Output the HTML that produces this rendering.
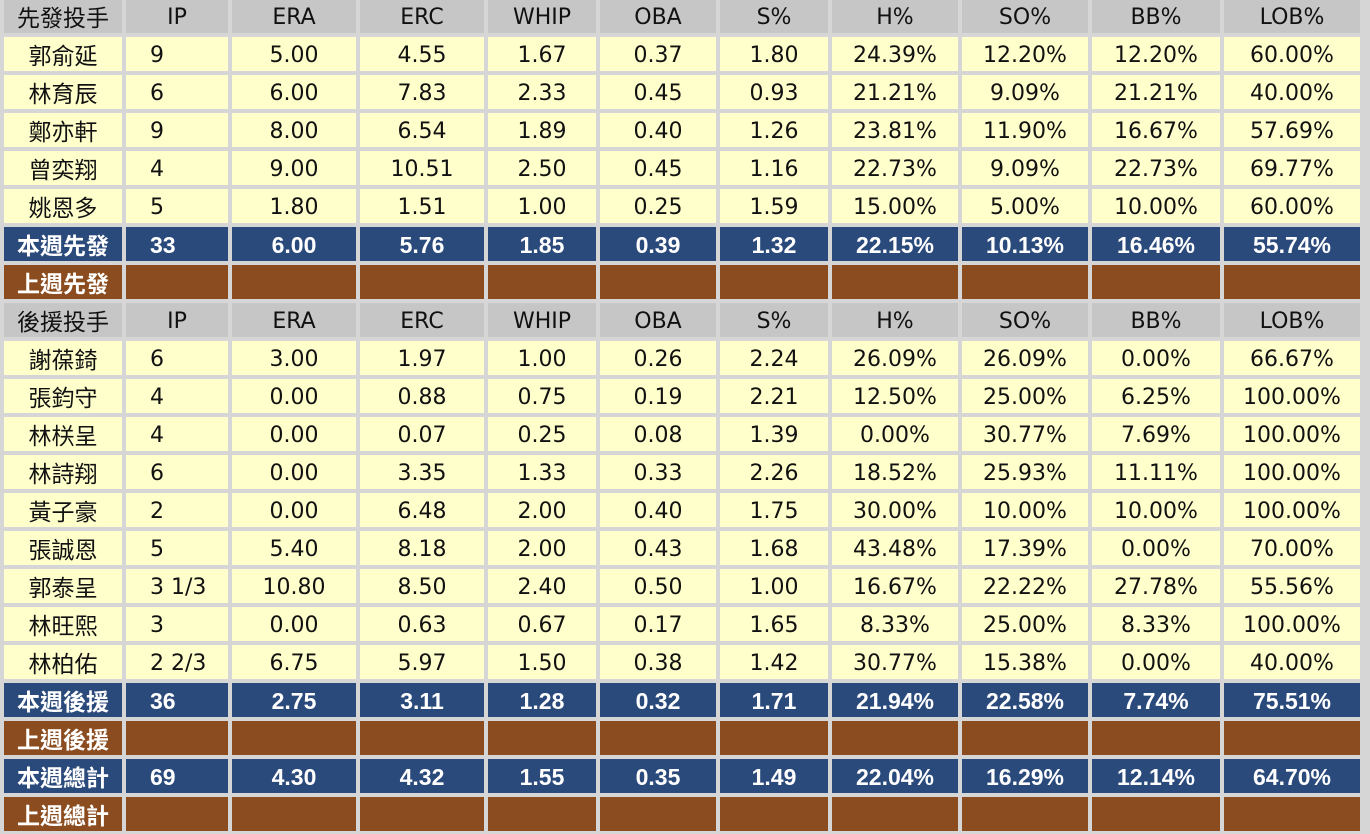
<!DOCTYPE html>
<html><head><meta charset="utf-8"><style>
html,body{margin:0;padding:0;background:#d6d6d6;width:1370px;height:834px;overflow:hidden}
.g{position:absolute;left:4px;top:-1px;display:grid;grid-template-columns:118px 102px 124px 124px 108px 116px 108px 126px 126px 128px 136px;grid-auto-rows:34px;gap:4px;font-family:"DejaVu Sans","Noto Sans CJK TC",sans-serif;font-size:22px}
.g div{display:flex;align-items:center;justify-content:center;color:#111;background:#ffffcc;padding-top:2px;box-sizing:border-box}
.g div.ip{justify-content:flex-start;padding-left:24px}
.g div.n{font-size:23px;padding-top:0}
.g div.h{background:#c6c6c6}
.g div.b{background:#2b4a7c;color:#fff;font-weight:bold;font-family:"Liberation Sans","Noto Sans CJK TC",sans-serif;font-size:23px}
.g div.r{background:#8b4c1f;color:#fff;font-weight:bold;font-family:"Liberation Sans","Noto Sans CJK TC",sans-serif;font-size:23px}
</style></head><body>
<div class="g" id="g"></div>
<script>
var rows=[
["h","先發投手","IP","ERA","ERC","WHIP","OBA","S%","H%","SO%","BB%","LOB%"],
["","郭俞延","9","5.00","4.55","1.67","0.37","1.80","24.39%","12.20%","12.20%","60.00%"],
["","林育辰","6","6.00","7.83","2.33","0.45","0.93","21.21%","9.09%","21.21%","40.00%"],
["","鄭亦軒","9","8.00","6.54","1.89","0.40","1.26","23.81%","11.90%","16.67%","57.69%"],
["","曾奕翔","4","9.00","10.51","2.50","0.45","1.16","22.73%","9.09%","22.73%","69.77%"],
["","姚恩多","5","1.80","1.51","1.00","0.25","1.59","15.00%","5.00%","10.00%","60.00%"],
["b","本週先發","33","6.00","5.76","1.85","0.39","1.32","22.15%","10.13%","16.46%","55.74%"],
["r","上週先發","","","","","","","","","",""],
["h","後援投手","IP","ERA","ERC","WHIP","OBA","S%","H%","SO%","BB%","LOB%"],
["","謝葆錡","6","3.00","1.97","1.00","0.26","2.24","26.09%","26.09%","0.00%","66.67%"],
["","張鈞守","4","0.00","0.88","0.75","0.19","2.21","12.50%","25.00%","6.25%","100.00%"],
["","林栚呈","4","0.00","0.07","0.25","0.08","1.39","0.00%","30.77%","7.69%","100.00%"],
["","林詩翔","6","0.00","3.35","1.33","0.33","2.26","18.52%","25.93%","11.11%","100.00%"],
["","黃子豪","2","0.00","6.48","2.00","0.40","1.75","30.00%","10.00%","10.00%","100.00%"],
["","張誠恩","5","5.40","8.18","2.00","0.43","1.68","43.48%","17.39%","0.00%","70.00%"],
["","郭泰呈","3 1/3","10.80","8.50","2.40","0.50","1.00","16.67%","22.22%","27.78%","55.56%"],
["","林旺熙","3","0.00","0.63","0.67","0.17","1.65","8.33%","25.00%","8.33%","100.00%"],
["","林柏佑","2 2/3","6.75","5.97","1.50","0.38","1.42","30.77%","15.38%","0.00%","40.00%"],
["b","本週後援","36","2.75","3.11","1.28","0.32","1.71","21.94%","22.58%","7.74%","75.51%"],
["r","上週後援","","","","","","","","","",""],
["b","本週總計","69","4.30","4.32","1.55","0.35","1.49","22.04%","16.29%","12.14%","64.70%"],
["r","上週總計","","","","","","","","","",""]];
var h="";
rows.forEach(function(r){var c=r[0];for(var i=1;i<r.length;i++){var cl=c;if(i==1)cl+=" n";if(i==2&&c!="h")cl+=" ip";h+='<div class="'+cl+'">'+r[i]+'</div>';}});
document.getElementById("g").innerHTML=h;
</script>
</body></html>
